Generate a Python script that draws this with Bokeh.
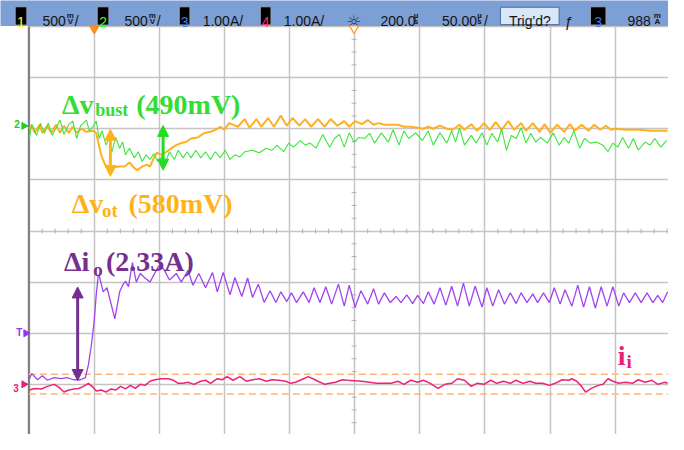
import numpy as np
from bokeh.plotting import figure
from bokeh.models import Range1d, FixedTicker, Grid, Arrow, NormalHead
from bokeh.core.properties import value
from bokeh.embed import file_html
from bokeh.resources import INLINE

# ---------------- data ----------------
# time in microseconds (50 us/div, trigger at 0); amplitude in screen divisions (0 = centre)
ch1_t = [-49.8,-48.0,-45.8,-42.0,-39.8,-36.0,-33.0,-29.3,-26.3,-23.3,
         -19.5,-16.5,-13.5,-9.8,-6.0,-0.8,1.5,3.0,5.3,8.3,
         10.5,12.8,15.8,19.5,23.3,27.0,30.8,33.0,36.8,40.5,
         42.8,45.8,48.0,51.8,55.5,59.3,63.0,66.8,70.5,74.3,
         79.5,84.0,89.3,94.5,96.8,99.8,103.5,106.5,110.3,115.5,
         119.3,124.5,128.3,133.5,138.0,143.3,147.8,152.3,157.5,162.0,
         166.5,171.8,177.0,181.5,186.8,192.0,195.8,200.3,205.5,210.0,
         214.5,218.3,222.8,228.0,233.3,237.8,243.0,248.3,252.8,256.5,
         260.3,265.5,270.8,275.3,280.5,284.3,289.5,294.0,299.3,303.8,
         308.3,312.8,318.0,322.5,327.8,331.5,336.8,342.0,345.8,350.3,
         355.5,360.8,365.3,369.0,374.3,379.5,384.0,388.5,393.0,396.8,
         400.5,408.0,417.8,428.3,440.3]
ch1_v = [2.00,2.06,1.92,2.08,1.92,2.06,1.92,2.08,1.92,2.06,
         1.92,2.04,1.92,2.00,1.94,1.96,1.92,1.74,1.49,1.30,
         1.25,1.17,1.25,1.26,1.26,1.34,1.23,1.19,1.26,1.30,
         1.26,1.43,1.53,1.49,1.55,1.62,1.68,1.72,1.74,1.81,
         1.83,1.91,1.94,2.00,2.04,1.98,2.11,2.08,2.04,2.19,
         2.02,2.19,2.04,2.21,2.04,2.26,2.06,2.21,2.06,2.19,
         2.04,2.19,2.04,2.19,2.06,2.15,2.04,2.15,2.09,2.17,
         2.08,2.11,2.08,2.08,2.08,2.04,2.04,2.02,2.00,2.04,
         2.00,2.06,2.00,1.98,2.08,1.98,2.09,1.96,2.11,1.98,
         2.13,1.98,2.15,1.98,2.11,1.96,2.11,1.94,2.09,1.92,
         2.08,1.94,2.09,1.96,2.08,1.96,2.08,1.98,2.06,1.98,
         2.00,1.98,1.98,1.96,1.96]

ch2_t = [-49.8,-48.0,-44.3,-41.3,-38.3,-35.3,-32.3,-28.5,-26.3,-23.3,
         -19.5,-16.5,-13.5,-10.5,-6.0,-3.8,-0.8,1.5,3.8,6.0,
         9.0,11.3,13.5,16.5,19.5,21.8,24.0,27.0,30.8,33.8,
         36.8,39.8,42.8,45.8,48.8,51.8,54.0,57.8,61.5,64.5,
         68.3,71.3,74.3,78.0,81.8,85.5,89.3,93.0,96.8,100.5,
         104.3,108.0,111.8,115.5,121.5,126.8,132.0,136.5,140.3,145.5,
         149.3,153.0,158.3,162.0,165.8,170.3,175.5,180.8,184.5,188.3,
         192.0,195.8,199.5,203.3,207.8,211.5,215.3,220.5,225.8,229.5,
         234.0,237.8,241.5,246.8,252.0,256.5,260.3,265.5,270.8,274.5,
         277.5,280.5,284.3,289.5,293.3,297.8,301.5,305.3,309.8,312.8,
         316.5,320.3,324.0,327.8,331.5,335.3,339.0,342.8,348.0,352.5,
         357.0,360.8,364.5,368.3,372.8,376.5,381.0,385.5,390.8,394.5,
         398.3,402.0,405.8,410.3,414.0,417.8,423.0,426.8,430.5,435.0,
         439.5]
ch2_v = [1.81,2.09,1.87,2.11,1.91,2.11,1.87,2.06,2.17,1.89,
         2.09,2.15,1.81,2.06,2.17,1.96,2.04,2.15,1.81,1.96,
         1.68,1.81,1.55,1.83,1.62,1.74,1.49,1.62,1.43,1.55,
         1.36,1.49,1.40,1.51,1.36,1.45,1.30,1.55,1.40,1.58,
         1.43,1.55,1.43,1.58,1.43,1.55,1.40,1.55,1.43,1.58,
         1.40,1.49,1.45,1.55,1.58,1.53,1.62,1.58,1.68,1.55,
         1.72,1.64,1.77,1.68,1.72,1.62,1.89,1.64,1.81,1.89,
         1.64,1.92,1.74,1.83,1.81,1.91,1.72,1.92,1.74,1.98,
         1.68,1.96,1.81,1.92,1.77,1.96,1.68,1.92,1.72,1.96,
         1.74,2.02,1.68,1.87,1.72,1.92,1.68,1.91,1.74,2.00,
         1.58,1.87,1.81,2.02,1.72,1.91,1.74,1.83,1.72,1.92,
         1.68,1.83,1.72,1.96,1.62,1.81,1.72,1.74,1.68,1.55,
         1.72,1.64,1.83,1.62,1.81,1.58,1.74,1.68,1.81,1.64,
         1.77]

ch3_t = [-49.8,-48.0,-43.5,-39.8,-36.0,-30.8,-25.5,-21.0,-15.8,-10.5,
         -6.8,-4.5,-2.3,0.0,1.5,3.0,3.8,6.8,9.8,15.8,
         19.5,21.8,24.0,26.3,29.3,32.3,35.3,39.0,42.8,49.5,
         53.3,57.8,63.0,66.8,72.0,75.8,80.3,85.5,90.8,94.5,
         99.0,104.3,108.0,113.3,117.8,121.5,126.0,130.5,135.0,139.5,
         143.3,147.8,151.5,155.3,160.5,165.0,168.8,173.3,177.8,182.3,
         187.5,192.0,195.8,200.3,204.8,210.0,214.5,218.3,222.8,227.3,
         231.8,235.5,240.0,244.5,248.3,252.8,256.5,261.0,265.5,270.0,
         274.5,279.0,283.5,288.0,292.5,297.8,301.5,306.0,310.5,315.0,
         319.5,324.0,327.8,332.3,336.8,340.5,345.0,349.5,353.3,357.8,
         361.5,366.8,371.3,375.8,380.3,384.8,389.3,393.8,398.3,402.8,
         406.5,411.0,415.5,420.0,424.5,429.0,432.8,436.5,440.3]
ch3_v = [-2.89,-2.79,-2.91,-2.83,-2.92,-2.87,-2.89,-2.87,-2.91,-2.91,
         -2.87,-2.62,-2.25,-1.75,-1.25,-0.89,-0.87,-1.19,-1.11,-1.72,
         -1.19,-1.06,-0.98,-1.09,-0.62,-1.00,-0.83,-0.92,-1.00,-0.68,
         -0.74,-0.96,-0.83,-1.00,-0.77,-1.06,-0.83,-1.11,-0.81,-1.19,
         -0.81,-1.25,-0.91,-1.28,-0.92,-1.30,-1.04,-1.40,-1.17,-1.40,
         -1.19,-1.38,-1.21,-1.40,-1.19,-1.40,-1.11,-1.40,-1.09,-1.43,
         -1.04,-1.47,-1.06,-1.49,-1.17,-1.43,-1.13,-1.43,-1.21,-1.40,
         -1.28,-1.40,-1.25,-1.42,-1.26,-1.42,-1.19,-1.43,-1.11,-1.45,
         -1.08,-1.47,-1.02,-1.47,-1.08,-1.49,-1.11,-1.47,-1.15,-1.43,
         -1.21,-1.42,-1.21,-1.40,-1.23,-1.40,-1.21,-1.40,-1.11,-1.43,
         -1.15,-1.47,-1.06,-1.49,-1.09,-1.51,-1.09,-1.47,-1.09,-1.47,
         -1.21,-1.40,-1.21,-1.40,-1.21,-1.40,-1.26,-1.40,-1.19]

ch4_t = [-49.8,-45.8,-40.5,-36.0,-30.8,-27.0,-23.3,-19.5,-15.8,-12.0,
         -8.3,-4.5,-0.8,1.5,5.3,9.0,12.8,16.5,20.3,24.0,
         27.8,31.5,35.3,39.0,42.8,46.5,51.8,57.0,60.8,64.5,
         68.3,72.0,76.5,81.8,85.5,89.3,94.5,98.3,102.0,106.5,
         111.8,117.0,121.5,126.8,132.0,136.5,141.8,147.0,150.8,154.5,
         159.0,164.3,168.0,171.8,177.0,180.8,185.3,190.5,194.3,205.5,
         216.8,228.0,233.3,237.8,243.0,248.3,252.8,258.0,264.0,269.3,
         274.5,279.0,284.3,289.5,294.0,299.3,304.5,309.0,314.3,319.5,
         324.0,329.3,334.5,339.0,344.3,349.5,354.0,359.3,364.5,366.8,
         370.5,374.3,377.3,381.8,387.0,390.8,394.5,398.3,402.8,408.0,
         413.3,417.8,423.0,428.3,432.8,438.0,440.3]
ch4_v = [-3.11,-3.08,-3.09,-3.04,-3.00,-3.06,-3.15,-3.11,-3.09,-3.08,
         -3.04,-2.98,-3.06,-3.13,-3.11,-3.15,-3.09,-3.11,-3.04,-3.09,
         -3.02,-3.08,-3.00,-3.02,-2.94,-2.91,-2.89,-2.89,-2.92,-2.98,
         -2.98,-2.96,-3.00,-2.94,-2.92,-2.98,-2.89,-2.91,-2.85,-2.92,
         -2.85,-2.94,-2.91,-2.89,-2.94,-2.91,-2.92,-2.94,-2.98,-2.96,
         -2.91,-2.85,-2.89,-2.94,-3.00,-2.98,-2.96,-2.91,-2.92,-2.94,
         -2.98,-2.98,-2.94,-3.00,-2.92,-2.96,-2.92,-2.98,-3.08,-3.00,
         -2.98,-2.89,-2.92,-3.04,-2.98,-3.00,-2.92,-2.98,-2.94,-2.98,
         -2.92,-2.98,-2.94,-2.98,-2.98,-3.02,-2.98,-2.91,-2.92,-2.89,
         -2.94,-3.04,-3.15,-3.08,-3.02,-3.00,-2.89,-2.94,-2.98,-2.96,
         -2.98,-2.91,-2.96,-2.92,-3.00,-2.96,-2.98]

ch4_band = [-2.80, -3.19]          # dashed cursor levels
time_ticks = [-50, 0, 50, 100, 150, 200, 250, 300, 350, 400, 450]
div_ticks = [-4, -3, -2, -1, 0, 1, 2, 3, 4]

header_scales = ["500", "500", "1.00A/", "1.00A/"]
header_time = ["200.0", "50.00"]

C1, C2, C3, C4 = "#ffb020", "#3ce63c", "#a044f2", "#ee2472"


# ---------------- layout helpers (screen position of the scope picture -> data units) -------------
def X(px):
    return (px - 96.0) * 0.75


def Y(py):
    return (239.0 - py) / 53.0


p = figure(width=668, height=434, x_range=Range1d(X(0), X(684)), y_range=Range1d(Y(450), Y(0)),
           x_axis_type=None, y_axis_type=None, output_backend="svg", toolbar_location=None,
           min_border=0, background_fill_color="white", border_fill_color="white")
p.outline_line_color = None

p.add_layout(Grid(dimension=0, ticker=FixedTicker(ticks=time_ticks),
                  grid_line_color="#c4c4c4", grid_line_width=1.5))
p.add_layout(Grid(dimension=1, ticker=FixedTicker(ticks=div_ticks),
                  grid_line_color="#c4c4c4", grid_line_width=1.5))

SANS = value("Liberation Sans")
SERIF = value("Liberation Serif")


def txt(x, y, s, size, color, font=SANS, style="normal", align="left"):
    p.text(x=[x], y=[y], text=[s], text_font=font, text_font_size=f"{size}px",
           text_font_style=style, text_color=color, text_align=align, text_baseline="alphabetic")


# left margin blank
p.quad(left=[X(-10)], right=[X(28.5)], bottom=[Y(460)], top=[Y(26.5)], fill_color="white", line_color=None)
p.segment(x0=[X(29)], y0=[Y(27)], x1=[X(29)], y1=[Y(460)], line_color="#7a7a7a", line_width=2)

# minor ticks on centre lines
vt = [k * 0.25 for k in range(-16, 17) if k % 4 != 0]
p.segment(x0=[X(359.5)] * len(vt), y0=vt, x1=[X(364.5)] * len(vt), y1=vt, line_color="#b0b0b0", line_width=1)
ht = [-50 + k * 10 for k in range(0, 50) if k % 5 != 0]
p.segment(x0=ht, y0=[Y(236.5)] * len(ht), x1=ht, y1=[Y(241.5)] * len(ht), line_color="#b0b0b0", line_width=1)

# cursor dashed lines
p.segment(x0=[X(29)] * 2, y0=ch4_band, x1=[X(690)] * 2, y1=ch4_band, line_color="#ffb478",
          line_width=1.5, line_dash="7 4")

# traces
p.line(ch4_t, ch4_v, line_color=C4, line_width=1.5)
p.line(ch3_t, ch3_v, line_color=C3, line_width=1.3)
p.line(ch1_t, ch1_v, line_color=C1, line_width=2)
p.line(ch2_t, ch2_v, line_color=C2, line_width=1.1)

# annotations
GREEN, ORANGE, PURPLE, PINK = "#33dd33", "#ffb31a", "#74308f", "#e8207a"
txt(X(63), Y(108), "Δv", 28, GREEN, SERIF, "bold")
txt(X(97), Y(114), "bust", 18, GREEN, SERIF, "bold")
txt(X(139), Y(108), "(490mV)", 28, GREEN, SERIF, "bold")

txt(X(73), Y(211), "Δv", 28, ORANGE, SERIF, "bold")
txt(X(104), Y(218), "ot", 19, ORANGE, SERIF, "bold")
txt(X(131), Y(211), "(580mV)", 28, ORANGE, SERIF, "bold")

txt(X(65), Y(271), "Δi", 28, PURPLE, SERIF, "bold")
txt(X(95), Y(279), "o", 19, PURPLE, SERIF, "bold")
txt(X(108), Y(271), "(2.33A)", 28, PURPLE, SERIF, "bold")

txt(X(632), Y(368), "i", 28, PINK, SERIF, "bold")
txt(X(641), Y(374), "i", 19, PINK, SERIF, "bold")

for (xa, ya, yb, col) in [(112.5, 133.5, 182.5, ORANGE), (166.5, 129.5, 176.0, "#22dd22"),
                          (79.0, 297.0, 394.0, PURPLE)]:
    p.add_layout(Arrow(start=NormalHead(size=11, fill_color=col, line_color=col),
                       end=NormalHead(size=11, fill_color=col, line_color=col),
                       x_start=X(xa), y_start=Y(ya), x_end=X(xa), y_end=Y(yb),
                       line_color=col, line_width=3))

# left channel markers
txt(X(14), Y(128), "2", 10, "#22cc22", SANS, "bold")
p.scatter([X(24)], [Y(130)], marker="triangle", angle=-np.pi / 2, size=7, color="#22cc22")
txt(X(16), Y(344), "T", 10, "#9933ee", SANS, "bold")
p.scatter([X(26)], [Y(345)], marker="triangle", angle=-np.pi / 2, size=7, color="#9933ee")
txt(X(13), Y(402), "3", 10, "#e8207a", SANS, "bold")
p.scatter([X(24)], [Y(398)], marker="triangle", angle=-np.pi / 2, size=7, color="#e8207a")

# ---------------- header bar ----------------
p.quad(left=[X(-10)], right=[X(700)], bottom=[Y(26.5)], top=[Y(-10)], fill_color="#7c9fd6", line_color=None)
DARK = "#151515"
boxes = [(15, 27, "1", "#ffff33"), (99, 111, "2", "#33ff33"), (183, 194, "3", "#3a7bff"),
         (266, 277, "4", "#ff2a7a"), (604, 620, "3", "#3a7bff")]
for (l, r, s, c) in boxes:
    p.quad(left=[X(l)], right=[X(r)], bottom=[Y(25.5)], top=[Y(6.5)], fill_color="black",
           line_color="#9aa6b8", line_width=1)
    txt(X((l + r) / 2), Y(22), s, 14, c, SANS, "normal", "center")

txt(X(43), Y(21.5), header_scales[0], 14, DARK)
txt(X(127), Y(21.5), header_scales[1], 14, DARK)
txt(X(207), Y(21.5), header_scales[2], 14, DARK)
txt(X(290), Y(21.5), header_scales[3], 14, DARK)
txt(X(389), Y(21.5), header_time[0], 14, DARK)
txt(X(452), Y(21.5), header_time[1], 14, DARK)
txt(X(642), Y(21.5), "988", 14, DARK)


def stacked(xc, top, bottom):
    txt(X(xc), Y(15.5), top, 8, DARK, SANS, "bold", "center")
    txt(X(xc), Y(22), bottom, 8, DARK, SANS, "bold", "center")


stacked(71.5, "m", "V")
txt(X(76), Y(21.5), "/", 14, DARK)
stacked(155.5, "m", "V")
txt(X(160), Y(21.5), "/", 14, DARK)
stacked(425.5, "µ", "s")
stacked(490.5, "µ", "s")
txt(X(495), Y(21.5), "/", 14, DARK)
stacked(672.5, "m", "A")

txt(X(362), Y(22.5), "☼", 17, "#333333", value("DejaVu Sans"), "normal", "center")
p.quad(left=[X(512)], right=[X(572)], bottom=[Y(25)], top=[Y(7)], fill_color="#d8e6f7",
       line_color="#4d6e9e", line_width=1)
txt(X(542), Y(21.5), "Trig'd?", 14, DARK, SANS, "normal", "center")
txt(X(582), Y(21.5), "ƒ", 15, DARK, SANS, "normal", "center")

# trigger / delay markers under the bar
p.scatter([X(96)], [Y(29.5)], marker="inverted_triangle", size=9, color="#ff8c1a")
p.scatter([X(362)], [Y(29)], marker="inverted_triangle", size=9, fill_color="white",
          line_color="#ff9933", line_width=1.2)

open("out.html", "w").write(file_html(p, INLINE))
